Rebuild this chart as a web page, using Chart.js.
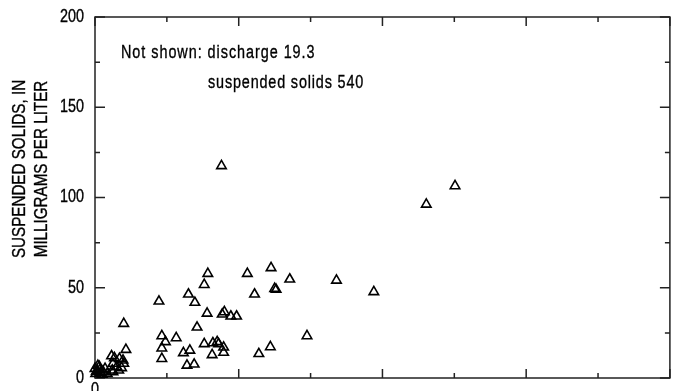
<!DOCTYPE html>
<html>
<head>
<meta charset="utf-8">
<script src="https://cdn.jsdelivr.net/npm/chart.js@4.4.1/dist/chart.umd.min.js"></script>
<style>
  html, body { margin: 0; padding: 0; background: #fff; overflow: hidden; }
  #wrap { width: 677px; height: 391px; position: relative; }
</style>
</head>
<body>
<div id="wrap"><canvas id="solidsChart"></canvas></div>
<script>
// discharge vs suspended solids
const discharge = [
    1.76, 5.01, 4.61, 3.88, 3.36, 2.95, 2.71, 2.45, 2.50, 2.52,
    2.44, 2.28, 2.12, 2.22, 1.89, 1.97, 1.77, 1.80, 1.56, 1.57,
    1.52, 1.30, 1.39, 0.89, 1.42, 0.93, 0.98, 1.13, 0.93, 1.52,
    1.64, 1.70, 1.72, 1.79, 1.79, 1.63, 1.23, 1.32, 0.93, 1.28,
    1.38, 0.40, 0.43, 0.23, 0.27, 0.34, 0.39, 0.40, 0.25, 0.30,
    0.37, 0.24, 0.33, 0.25, 0.00, 0.03, 0.06, 0.08, 0.01, 0.07,
    0.11, 0.14, 0.04, 0.10, 0.02, 0.17
];
const suspendedSolids = [
    117.5, 106.4, 96.2, 47.7, 54.1, 23.3, 54.7, 61.0, 49.5, 49.0,
    17.2, 13.4, 57.8, 46.4, 34.2, 34.2, 35.3, 36.6, 35.8, 57.8,
    51.7, 46.4, 41.8, 42.5, 28.1, 23.3, 20.0, 22.2, 16.5, 18.9,
    19.4, 20.0, 18.9, 17.0, 14.1, 12.8, 13.9, 15.3, 10.7, 7.0,
    7.6, 30.1, 15.7, 12.2, 11.1, 10.7, 9.8, 8.0, 8.0, 6.1,
    5.6, 4.3, 4.3, 3.4, 5.2, 4.1, 6.3, 3.0, 2.4, 4.7,
    3.6, 5.2, 6.9, 1.9, 3.6, 2.4
];
const yTickLabels = [0, 50, 100, 150, 200];
const xTickLabels = [0];
const yTitle = ['SUSPENDED SOLIDS, IN', 'MILLIGRAMS PER LITER'];
const noteLines = ['Not shown: discharge 19.3', 'suspended solids 540'];

const points = discharge.map((d, i) => ({ x: d, y: suspendedSolids[i] }));
const FONT = '"Liberation Sans", Arial, sans-serif';
const SQUEEZE = 0.8; // fake a condensed face

function narrowText(ctx, text, x, y, align, size, spacing) {
    ctx.save();
    ctx.translate(x, y);
    ctx.scale(SQUEEZE, 1);
    ctx.font = size + 'px ' + FONT;
    ctx.letterSpacing = (spacing || 0) + 'px';
    ctx.textAlign = align;
    ctx.fillText(text, 0, 0);
    ctx.lineWidth = 0.35;
    ctx.strokeText(text, 0, 0);
    ctx.restore();
}

// frame, inward ticks, labels and notes
const framePlugin = {
    id: 'frame',
    beforeDatasetsDraw(chart) {
        const { ctx, chartArea: a, scales: { x, y } } = chart;
        ctx.save();
        ctx.strokeStyle = '#222';
        ctx.lineWidth = 1.5;
        ctx.strokeRect(a.left, a.top, a.right - a.left, a.bottom - a.top);
        ctx.beginPath();
        x.ticks.forEach(t => {
            const px = x.getPixelForValue(t.value);
            const len = t.value % 2 === 0 ? 9 : 5;
            ctx.moveTo(px, a.bottom); ctx.lineTo(px, a.bottom - len);
            ctx.moveTo(px, a.top); ctx.lineTo(px, a.top + len);
        });
        y.ticks.forEach(t => {
            const py = y.getPixelForValue(t.value);
            const len = t.value % 50 === 0 ? 10 : 5;
            ctx.moveTo(a.left, py); ctx.lineTo(a.left + len, py);
            ctx.moveTo(a.right, py); ctx.lineTo(a.right - len, py);
        });
        ctx.stroke();
        ctx.restore();
    },
    afterDraw(chart) {
        const { ctx, chartArea: a, scales: { x, y } } = chart;
        ctx.save();
        ctx.fillStyle = '#000';
        ctx.strokeStyle = '#000';
        ctx.textBaseline = 'middle';
        yTickLabels.forEach(v => narrowText(ctx, String(v), a.left - 11, y.getPixelForValue(v), 'right', 18));
        ctx.textBaseline = 'top';
        xTickLabels.forEach(v => narrowText(ctx, String(v), x.getPixelForValue(v), a.bottom + 3, 'center', 18));

        ctx.textBaseline = 'alphabetic';
        narrowText(ctx, noteLines[0], 121, 58, 'left', 18, 1.2);
        narrowText(ctx, noteLines[1], 208, 88, 'left', 18, 1.05);

        ctx.translate(0, 169);
        ctx.rotate(-Math.PI / 2);
        ctx.textBaseline = 'middle';
        narrowText(ctx, yTitle[0], 0, 20, 'center', 19);
        narrowText(ctx, yTitle[1], 0, 42, 'center', 19);
        ctx.restore();
    }
};

const ctx = document.getElementById('solidsChart').getContext('2d');
const solidsChart = new Chart(ctx, {
    type: 'scatter',
    data: {
        datasets: [{
            label: 'Suspended solids',
            data: points,
            pointStyle: 'triangle',
            pointRadius: 5.5,
            pointBorderWidth: 1.6,
            pointBorderColor: '#000',
            pointBackgroundColor: 'rgba(255,255,255,0)',
            clip: false
        }]
    },
    options: {
        responsive: true,
        maintainAspectRatio: false,
        animation: false,
        layout: { padding: { top: 17, right: 4, left: 0, bottom: 0 } },
        plugins: { legend: { display: false }, tooltip: { enabled: false } },
        scales: {
            x: {
                type: 'linear',
                min: 0,
                max: 8,
                grid: { display: false },
                border: { display: false },
                afterFit: s => { s.height = 13; },
                ticks: { stepSize: 1, display: false }
            },
            y: {
                min: 0,
                max: 200,
                grid: { display: false },
                border: { display: false },
                afterFit: s => { s.width = 95; },
                ticks: { stepSize: 25, display: false }
            }
        }
    },
    plugins: [framePlugin]
});
</script>
</body>
</html>
